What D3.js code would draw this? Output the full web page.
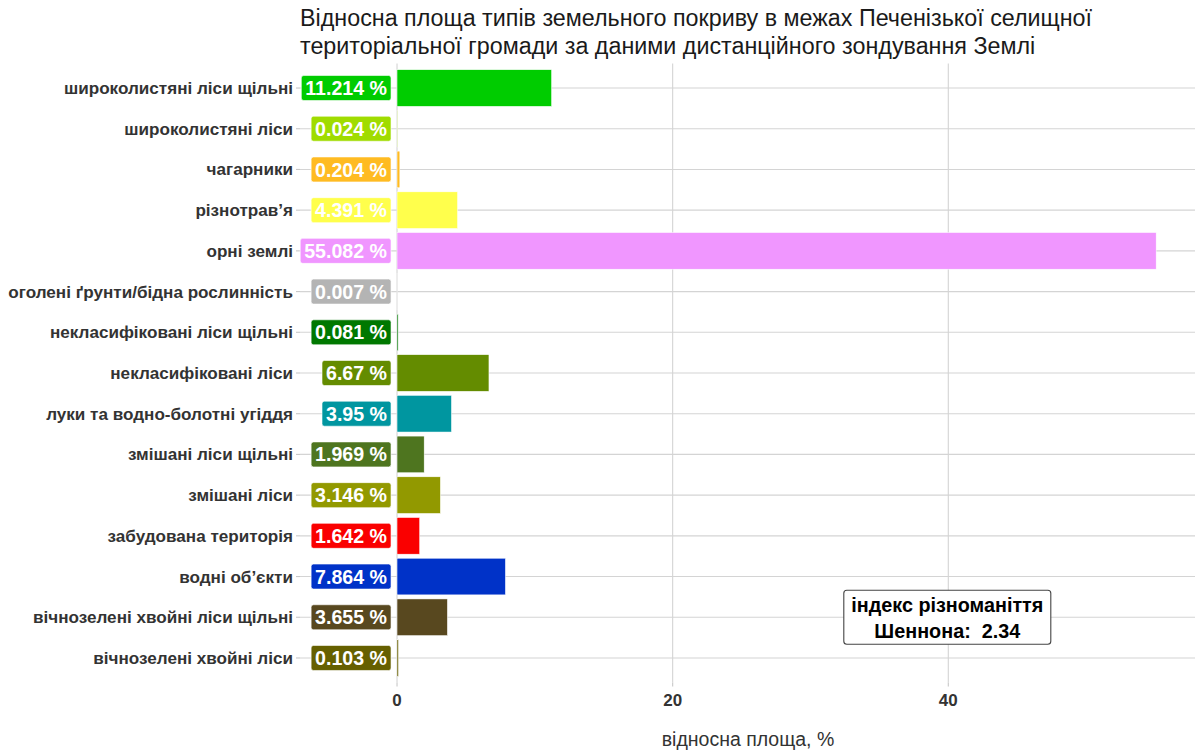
<!DOCTYPE html>
<html><head><meta charset="utf-8">
<script src="https://cdn.jsdelivr.net/npm/d3@7"></script>
<style>
html,body{margin:0;padding:0;background:#fff;}
svg{display:block;font-family:"Liberation Sans",Arial,sans-serif;}
</style></head>
<body><svg id="chart" width="1196" height="750"></svg>
<script>
const categories = [
  "широколистяні ліси щільні",
  "широколистяні ліси",
  "чагарники",
  "різнотрав’я",
  "орні землі",
  "оголені ґрунти/бідна рослинність",
  "некласифіковані ліси щільні",
  "некласифіковані ліси",
  "луки та водно-болотні угіддя",
  "змішані ліси щільні",
  "змішані ліси",
  "забудована територія",
  "водні об’єкти",
  "вічнозелені хвойні ліси щільні",
  "вічнозелені хвойні ліси"
];
const values = [11.214, 0.024, 0.204, 4.391, 55.082, 0.007, 0.081, 6.67, 3.95, 1.969, 3.146, 1.642, 7.864, 3.655, 0.103];
const palette = ["#00CC00","#A0DC00","#FFBB22","#FFFF4C","#F096FF","#B4B4B4","#007800","#648C00","#0096A0","#4E751F","#929900","#FA0000","#0032C8","#58481F","#666000"];
const xTicks = [0, 20, 40];
const titleLines = ["Відносна площа типів земельного покриву в межах Печенізької селищної",
                    "територіальної громади за даними дистанційного зондування Землі"];
const xTitle = "відносна площа, %";
const annotation = ["індекс різноманіття", "Шеннона:\u00A0 2.34"];
const annotationX = 40;
const annotationPos = 13; // row index units

const data = categories.map((c,i)=>({cat:c, val:values[i], color:palette[i]}));

const svg = d3.select("#chart");
const panel = {left:300, right:1195, top:63.6, bottom:682.4};

const x = d3.scaleLinear().domain([-7.04, 57.9]).range([panel.left, panel.right]);
const step = (panel.bottom - panel.top) / (categories.length - 1 + 1.2);
const yc = c => panel.top + step*(0.6 + categories.indexOf(c));

// title
const title = svg.append("text").attr("font-size", 23.3).attr("fill", "#1a1a1a");
titleLines.forEach((t,i)=>title.append("tspan").attr("x",300).attr("y",26+28*i).text(t));

// gridlines horizontal
svg.append("g").selectAll("line").data(categories).join("line")
  .attr("x1", panel.left).attr("x2", panel.right)
  .attr("y1", d=>yc(d)).attr("y2", d=>yc(d))
  .attr("stroke","#d4d4d4").attr("stroke-width",1.1);
// vertical gridlines
svg.append("g").selectAll("line").data(xTicks).join("line")
  .attr("x1", d=>x(d)).attr("x2", d=>x(d))
  .attr("y1", panel.top).attr("y2", panel.bottom)
  .attr("stroke","#d4d4d4").attr("stroke-width",1.1);

// y axis ticks + labels
const yAxis = svg.append("g");
yAxis.selectAll("line").data(categories).join("line")
  .attr("x1", panel.left-4).attr("x2", panel.left)
  .attr("y1", d=>yc(d)).attr("y2", d=>yc(d))
  .attr("stroke","#c8c8c8").attr("stroke-width",1.1);
yAxis.selectAll("text").data(categories).join("text")
  .attr("x", panel.left-7).attr("y", d=>yc(d)).attr("dy","0.35em")
  .attr("text-anchor","end").attr("font-size",17.1).attr("font-weight","bold")
  .attr("fill","#333").text(d=>d);

// x axis ticks + labels
const xAxis = svg.append("g");
xAxis.selectAll("line").data(xTicks).join("line")
  .attr("x1", d=>x(d)).attr("x2", d=>x(d))
  .attr("y1", panel.bottom).attr("y2", panel.bottom+4)
  .attr("stroke","#c8c8c8").attr("stroke-width",1.1);
xAxis.selectAll("text").data(xTicks).join("text")
  .attr("x", d=>x(d)).attr("y", panel.bottom+18).attr("dy","0.35em")
  .attr("text-anchor","middle").attr("font-size",17).attr("font-weight","bold")
  .attr("fill","#333").text(d=>d);
svg.append("text").attr("x", 748).attr("y", 739).attr("dy","0.35em")
  .attr("text-anchor","middle").attr("font-size",19.5).attr("fill","#333").text(xTitle);

// bars
const bh = step*0.9;
svg.append("g").selectAll("rect").data(data).join("rect")
  .attr("x", x(0)).attr("y", d=>yc(d.cat)-bh/2)
  .attr("width", d=>x(d.val)-x(0)).attr("height", bh)
  .attr("fill", d=>d.color).attr("stroke","#fff").attr("stroke-width",0.5);

// value labels
const lab = svg.append("g").selectAll("g").data(data).join("g");
lab.each(function(d){
  const g = d3.select(this);
  const t = g.append("text").attr("x", x(0)-10).attr("y", yc(d.cat)).attr("dy","0.36em")
    .attr("text-anchor","end").attr("font-size",19.6).attr("font-weight","bold")
    .attr("fill","#fff").text(d.val + " %");
  const bb = t.node().getBBox();
  g.insert("rect","text").attr("x", bb.x-4).attr("y", yc(d.cat)-12.5)
    .attr("width", bb.width+8).attr("height", 25).attr("rx",2.5)
    .attr("fill", d.color).attr("stroke","#fff").attr("stroke-width",0.6);
});

// annotation
const ag = svg.append("g");
const ayc = panel.top + step*(0.6 + annotationPos);
const at = ag.append("text").attr("text-anchor","middle").attr("font-size",19.8)
  .attr("font-weight","bold").attr("fill","#000");
annotation.forEach((s,i)=>at.append("tspan").attr("x", x(annotationX)-1).attr("y", ayc - 12 + 26*i).attr("dy","0.36em").text(s));
ag.insert("rect","text").attr("x", x(annotationX)-1-103.5).attr("y", ayc-27).attr("width", 207).attr("height", 54)
  .attr("rx",3).attr("fill","#fff").attr("stroke","#444").attr("stroke-width",1.1);
</script></body></html>
